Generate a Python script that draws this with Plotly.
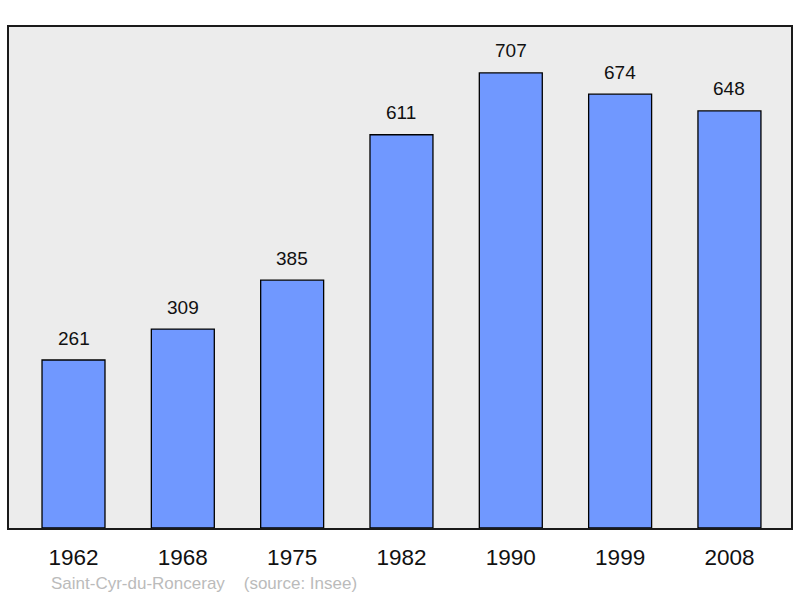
import plotly.graph_objects as go

years = ["1962", "1968", "1975", "1982", "1990", "1999", "2008"]
population = [261, 309, 385, 611, 707, 674, 648]
source_text = "Saint-Cyr-du-Ronceray    (source: Insee)"

xpos = list(range(len(years)))
FONT = "Liberation Sans, Arial, sans-serif"

fig = go.Figure()
fig.add_trace(go.Bar(
    x=xpos, y=population, width=0.576,
    marker=dict(color="#7098ff", line=dict(color="#000000", width=1.3)),
    hoverinfo="skip",
))

for xi, v in zip(xpos, population):
    fig.add_annotation(x=xi, y=v, text=str(v), showarrow=False,
                       yanchor="middle", yshift=22,
                       font=dict(family=FONT, size=19, color="#111"))

fig.add_annotation(x=(49 - 9) / 782, y=(528 - 583) / 501, xref="paper", yref="paper",
                   text=source_text, showarrow=False, xanchor="left", yanchor="middle",
                   font=dict(family=FONT, size=17, color="#bbbbbb"))

fig.update_layout(
    width=800, height=598,
    margin=dict(l=9, r=9, t=27, b=70, autoexpand=False),
    paper_bgcolor="white", plot_bgcolor="#ececec",
    showlegend=False,
    xaxis=dict(range=[-0.59, 6.563], tickmode="array", tickvals=xpos, ticktext=years,
               showgrid=False, zeroline=False, showline=True, mirror=True, automargin=False,
               linecolor="#1a1a1a", linewidth=2, ticks="", ticklabelstandoff=8,
               tickfont=dict(family=FONT, size=22.5, color="#111")),
    yaxis=dict(range=[0, 778.4], showgrid=False, zeroline=False, showticklabels=False,
               automargin=False,
               showline=True, mirror=True, linecolor="#1a1a1a", linewidth=2, ticks=""),
)

fig.write_html("out.html", config={"displayModeBar": False},
               post_script="document.body.style.margin='0';document.body.style.overflow='hidden';")
